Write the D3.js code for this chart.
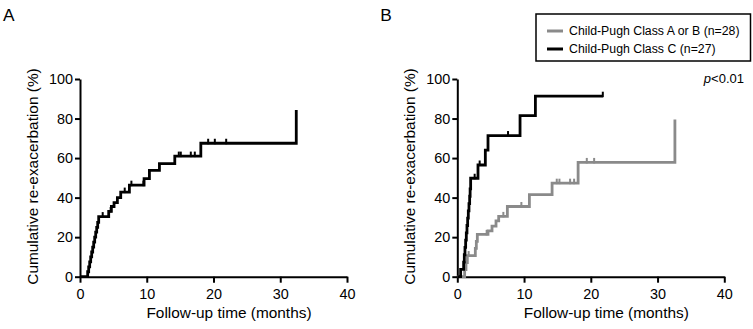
<!DOCTYPE html>
<html>
<head>
<meta charset="utf-8">
<script src="https://cdn.jsdelivr.net/npm/d3@7"></script>
<style>
  body { margin: 0; background: #fff; }
  svg { font-family: "Liberation Sans", Arial, sans-serif; }
</style>
</head>
<body>
<div id="chart"></div>
<script>
// panel A: all patients (event times in months, cumulative %)
const timesA = [0, 1.15, 1.3, 1.45, 1.6, 1.75, 1.9, 2.05, 2.2, 2.35, 2.5, 2.65, 2.8, 4.3, 4.7, 5.1, 5.6, 6.1, 7.4, 9.6, 10.4, 11.9, 14.2, 18.1, 32.4]
const valsA  = [0, 2.5, 5, 7.5, 10, 12.5, 15, 17.5, 20, 22.5, 25, 27.5, 30.4, 33, 35.5, 37.5, 40, 42.8, 46.3, 49.6, 53.8, 57.2, 61, 67.5, 84.3]
const censorA = [3.4, 4.6, 6.7, 7.7, 9.5, 14.8, 15.1, 16.6, 17.2, 19.2, 20.2, 21.9]

// panel B: Child-Pugh A or B
const timesAB = [0, 1.1, 1.3, 1.5, 2.7, 2.85, 3.0, 4.6, 5.2, 5.8, 6.2, 7.5, 10.8, 14.2, 18.1, 32.6]
const valsAB  = [0, 3.6, 7.1, 10.7, 14.3, 17.9, 21.4, 23.2, 25.6, 28.2, 30.5, 35.5, 41.5, 47.3, 57.8, 79.5]
const censorAB = [1.7, 4.4, 6.9, 9.6, 14.9, 15.3, 16.9, 17.5, 19.4, 20.5]

// panel B: Child-Pugh C
const timesC = [0, 0.5, 0.95, 1.05, 1.15, 1.25, 1.35, 1.45, 1.55, 1.65, 1.75, 1.85, 1.92, 2.0, 3.1, 4.2, 4.6, 9.4, 11.7]
const valsC  = [0, 3.7, 7.4, 11.1, 14.8, 18.5, 22.2, 25.9, 29.6, 33.3, 37, 40.7, 44.4, 49.8, 56.5, 64, 71.4, 81.5, 91.3]
const censorC = [2.6, 3.35, 7.6, 21.8]

const xTicks = [0, 10, 20, 30, 40]
const yTicks = [0, 20, 40, 60, 80, 100]
const legendLabels = ["Child-Pugh Class A or B (n=28)", "Child-Pugh Class C (n=27)"]

const width = 753
const height = 329
const grey = "#8a8a8a"

const svg = d3.select("#chart")
  .append("svg")
  .attr("width", width)
  .attr("height", height)

function drawPanel(left, label, series) {
  const x = d3.scaleLinear().domain([0, 40]).range([left, left + 267])
  const y = d3.scaleLinear().domain([0, 100]).range([276.7, 79])
  const g = svg.append("g")

  // x axis
  const xAxis = g.append("g")
    .attr("transform", `translate(0,${y(0)})`)
    .call(d3.axisBottom(x).tickValues(xTicks).tickSize(6).tickSizeOuter(0).tickPadding(6))
  // y axis
  const yAxis = g.append("g")
    .attr("transform", `translate(${x(0)},0)`)
    .call(d3.axisLeft(y).tickValues(yTicks).tickSize(5).tickSizeOuter(0).tickPadding(2))

  ;[xAxis, yAxis].forEach(a => {
    a.select(".domain").attr("stroke", "#000").attr("stroke-width", 2)
    a.selectAll(".tick line").attr("stroke", "#000").attr("stroke-width", 2)
    a.selectAll("text").attr("fill", "#000").style("font-size", "14.4px")
  })

  // step curves
  const line = d3.line()
    .x(d => x(d[0]))
    .y(d => y(d[1]))
    .curve(d3.curveStepAfter)

  series.forEach(s => {
    const pts = s.times.map((t, i) => [t, s.vals[i]])
    if (s.end != null) pts.push([s.end, s.vals[s.vals.length - 1]])
    g.append("path")
      .attr("d", line(pts))
      .attr("fill", "none")
      .attr("stroke", s.color)
      .attr("stroke-width", 2.8)

    // censor marks
    const bis = d3.bisector(d => d).right
    g.selectAll(null)
      .data(s.censor)
      .join("line")
      .attr("x1", d => x(d))
      .attr("x2", d => x(d))
      .attr("y1", d => y(s.vals[bis(s.times, d) - 1]) + 1)
      .attr("y2", d => y(s.vals[bis(s.times, d) - 1]) - 4.5)
      .attr("stroke", s.color)
      .attr("stroke-width", 2)
  })

  // titles
  g.append("text")
    .attr("x", x(0) + 149)
    .attr("y", 318)
    .attr("text-anchor", "middle")
    .style("font-size", "15.4px")
    .text("Follow-up time (months)")

  g.append("text")
    .attr("transform", `translate(${left - 42},176.5) rotate(-90)`)
    .attr("text-anchor", "middle")
    .style("font-size", "15.4px")
    .text("Cumulative re-exacerbation (%)")

  g.append("text")
    .attr("x", left - 77)
    .attr("y", 21)
    .style("font-size", "17.3px")
    .text(label)

  return { x, y }
}

drawPanel(80, "A", [
  { times: timesA, vals: valsA, censor: censorA, color: "#000" }
])

drawPanel(457.3, "B", [
  { times: timesAB, vals: valsAB, censor: censorAB, color: grey },
  { times: timesC, vals: valsC, censor: censorC, color: "#000", end: 21.8 }
])

// p value
svg.append("text")
  .attr("x", 744)
  .attr("y", 83)
  .attr("text-anchor", "end")
  .style("font-size", "13px")
  .html('<tspan font-style="italic">p</tspan>&lt;0.01')

// legend
const legend = svg.append("g")
legend.append("rect")
  .attr("x", 536).attr("y", 14)
  .attr("width", 214.5).attr("height", 47)
  .attr("fill", "none")
  .attr("stroke", "#000")
  .attr("stroke-width", 1.5)

legend.selectAll("g.item")
  .data(legendLabels)
  .join("g")
  .attr("class", "item")
  .attr("transform", (d, i) => `translate(0,${31 + i * 18})`)
  .each(function (d, i) {
    const item = d3.select(this)
    item.append("line")
      .attr("x1", 547).attr("x2", 563)
      .attr("stroke", i === 0 ? grey : "#000")
      .attr("stroke-width", 3)
    item.append("text")
      .attr("x", 569)
      .attr("dy", "0.35em")
      .style("font-size", "12.3px")
      .text(d)
  })
</script>
</body>
</html>
